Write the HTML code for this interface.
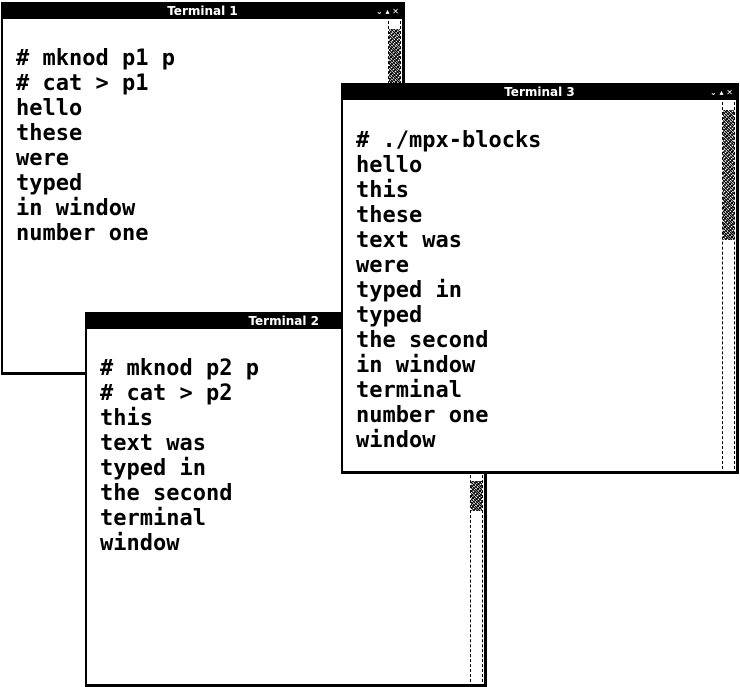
<!DOCTYPE html>
<html><head><style>
body{margin:0;width:740px;height:687px;background:#fff;position:relative;overflow:hidden;font-family:"DejaVu Sans Mono","Liberation Mono",monospace;}
.w{position:absolute;background:#fff;border:2px solid #000;border-bottom-width:3px;border-right-width:3px;box-sizing:border-box;}
.t{position:absolute;left:0;right:0;top:0;height:15px;background:#000;color:#fff;font:bold 12px "DejaVu Sans","Liberation Sans",sans-serif;text-align:center;line-height:15px;}
.b{position:absolute;right:3px;top:0;font-size:8px;color:#fff;}
.sb{position:absolute;right:1px;width:11px;border-left:1px dashed #000;border-right:1px dashed #000;}
.tex{position:absolute;left:0;right:0;background:repeating-linear-gradient(45deg,#000 0 1px,#fff 1px 2px),repeating-linear-gradient(-45deg,#000 0 1px,#fff 1px 3px);background-blend-mode:multiply;}
pre{position:absolute;margin:0;font-family:"DejaVu Sans Mono","Liberation Mono",monospace;font-size:22px;font-weight:bold;line-height:25px;color:#000;}
</style></head><body>
<div class="w" style="left:1px;top:2px;width:404px;height:373px;">
 <div class="t">Terminal 1<span class="b">⌄ ▴ ✕</span></div>
 <div class="sb" style="top:17px;bottom:2px;"><div class="tex" style="top:8px;height:58px;"></div></div>
 <pre style="left:13px;top:42px;"># mknod p1 p
# cat &gt; p1
hello
these
were
typed
in window
number one</pre>
</div>
<div class="w" style="left:85px;top:312px;width:402px;height:375px;">
 <div class="t" style="text-align:right;padding-right:165px;">Terminal 2</div>
 <div class="sb" style="top:17px;bottom:2px;"><div class="tex" style="top:150px;height:30px;"></div></div>
 <pre style="left:13px;top:42px;"># mknod p2 p
# cat &gt; p2
this
text was
typed in
the second
terminal
window</pre>
</div>
<div class="w" style="left:341px;top:83px;width:398px;height:391px;">
 <div class="t">Terminal 3<span class="b">⌄ ▴ ✕</span></div>
 <div class="sb" style="top:17px;bottom:2px;"><div class="tex" style="top:8px;height:130px;"></div></div>
 <pre style="left:13px;top:43px;"># ./mpx-blocks
hello
this
these
text was
were
typed in
typed
the second
in window
terminal
number one
window</pre>
</div>
</body></html>
